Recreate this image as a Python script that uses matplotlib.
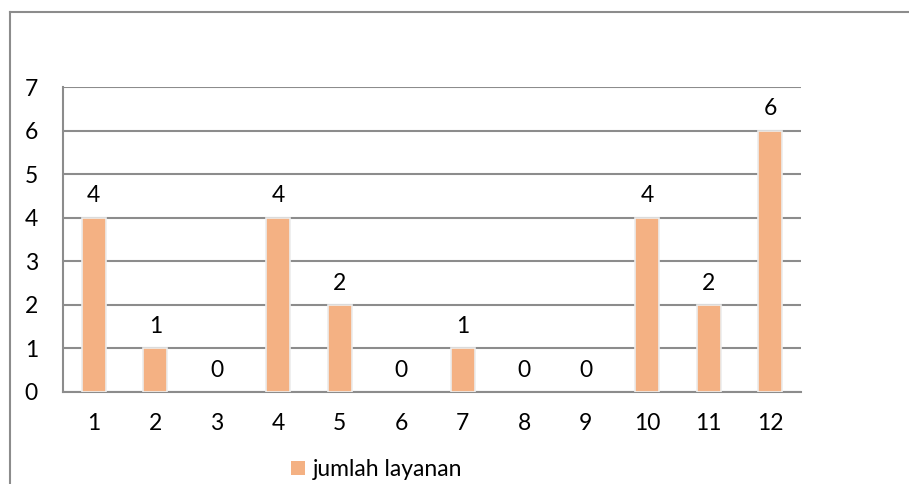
import matplotlib
matplotlib.use("Agg")
import matplotlib.pyplot as plt
from matplotlib.lines import Line2D

# data
bulan = ["1", "2", "3", "4", "5", "6", "7", "8", "9", "10", "11", "12"]
jumlah = [4, 1, 0, 4, 2, 0, 1, 0, 0, 4, 2, 6]
yticks = [0, 1, 2, 3, 4, 5, 6, 7]

plt.rcParams['font.family'] = ['Lato', 'DejaVu Sans']
fs = 16.5

fig = plt.figure(figsize=(9.09, 4.84), dpi=100)
ax = fig.add_axes([0.0693, 0.1901, 0.8119, 0.6301])

x = list(range(len(bulan)))
# no edge on empty bars so nothing shows at zero
lw = [1.2 if v > 0 else 0 for v in jumlah]
bars = ax.bar(x, jumlah, width=0.39, color='#F4B183', edgecolor='#ececec',
              linewidth=lw, zorder=3, label='jumlah layanan')

# data labels
for xi, v in zip(x, jumlah):
    ax.text(xi, v + 0.5, str(v), ha='center', va='center', fontsize=fs,
            color='black', zorder=4)

ax.set_xlim(-0.5, len(bulan) - 0.5)
ax.set_ylim(0, 7)
ax.set_yticks(yticks)
ax.set_xticks(x)
ax.set_xticklabels(bulan)
ax.tick_params(axis='both', length=0, labelsize=fs, colors='black')
ax.tick_params(axis='y', pad=18)
ax.tick_params(axis='x', pad=15)

ax.grid(axis='y', color='#8c8c8c', linewidth=1.5, zorder=0)
for s in ['top', 'right']:
    ax.spines[s].set_visible(False)
ax.spines['left'].set_color('#8c8c8c')
ax.spines['left'].set_linewidth(1.5)
ax.spines['bottom'].set_color('#8c8c8c')
ax.spines['bottom'].set_linewidth(1.5)

# legend below the plot
leg = ax.legend(loc='center', bbox_to_anchor=(0.375, -0.305, 0.1, 0.1),
                frameon=False, fontsize=fs, handlelength=0.6, handleheight=0.6,
                handletextpad=0.35)
for h in leg.legend_handles:
    h.set_linewidth(0)

# chart border (top and left visible)
fig.add_artist(Line2D([9.5 / 909, 9.5 / 909], [0, 1 - 11.5 / 484],
                      color='#8c8c8c', linewidth=1.5))
fig.add_artist(Line2D([9.5 / 909, 1], [1 - 11.5 / 484, 1 - 11.5 / 484],
                      color='#8c8c8c', linewidth=1.5))

fig.savefig("out.png", dpi=100)
